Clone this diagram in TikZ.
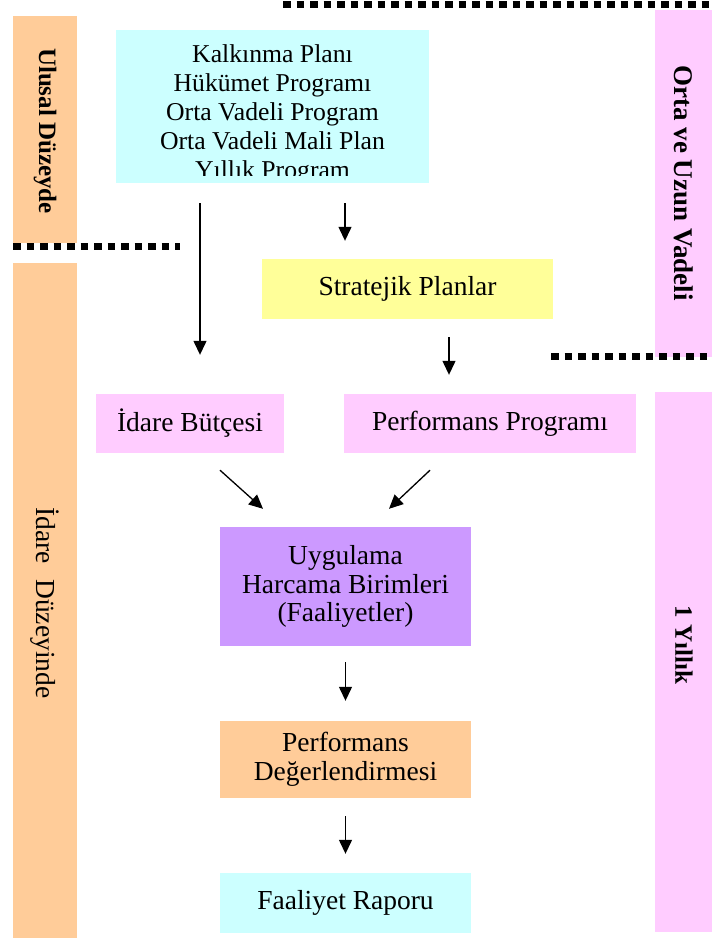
\documentclass[tikz,border=0pt]{standalone}
\usepackage{fontspec}
\setmainfont{Liberation Serif}
\usetikzlibrary{arrows.meta,calc}

\definecolor{peach}{HTML}{FFCC99}
\definecolor{paleCyan}{HTML}{CCFFFF}
\definecolor{paleYellow}{HTML}{FFFF99}
\definecolor{palePink}{HTML}{FFCCFF}
\definecolor{lilac}{HTML}{CC99FF}

\begin{document}
\begin{tikzpicture}[
  x=1pt, y=-1pt,
  txt/.style={font=\fontsize{27.5}{28.5}\selectfont, align=center, inner sep=0pt},
  box/.style={rectangle, inner sep=0pt, draw=none, txt},
  bar/.style={rectangle, inner sep=0pt, draw=none},
  sidelabel/.style={rotate=-90, inner sep=0pt},
  flow/.style={-{Triangle[length=14pt,width=13pt]}, line width=1.3pt, black},
  divider/.style={line width=7pt, black, dash pattern=on 7.5pt off 6pt}
]
\useasboundingbox (0,0) rectangle (712,942);

% level bars on both sides
\node[bar, fill=peach, minimum width=64, minimum height=227] (ulusalBar) at (45,129.5) {};
\node[bar, fill=peach, minimum width=64, minimum height=675] (idareBar) at (45,600.5) {};
\node[bar, fill=palePink, minimum width=57, minimum height=347] (ortaBar) at (683.5,183.5) {};
\node[bar, fill=palePink, minimum width=57, minimum height=540] (yillikBar) at (683.5,662) {};

\node[sidelabel, font=\fontsize{25}{28}\selectfont\bfseries] (ulusalLbl) at (45,131) {Ulusal Düzeyde};
\node[sidelabel, font=\fontsize{27.5}{30}\selectfont] (idareLbl) at (45,603) {İdare\hspace{0.3em} Düzeyinde};
\node[sidelabel, font=\fontsize{27}{30}\selectfont\bfseries] (ortaLbl) at (684,183) {Orta ve Uzun Vadeli};
\node[sidelabel, font=\fontsize{25}{28}\selectfont\bfseries] (yillikLbl) at (684,645) {1 Yıllık};

% dotted separators
\coordinate (topL) at (283,5);   \coordinate (topR) at (712,5);
\coordinate (midL) at (13,246);  \coordinate (midR) at (180,246);
\coordinate (lowL) at (551,356); \coordinate (lowR) at (712,356);
\draw[divider] (topL) -- (topR);
\draw[divider] (midL) -- (midR);
\draw[divider] (lowL) -- (lowR);

% national plans, with the last line cut by the frame
\node[box, fill=paleCyan, minimum width=313, minimum height=153] (plans) at (272.5,106.5) {};
\begin{scope}
  \clip (116,30) rectangle (429,175);
  % anchored on the baseline of the last line
  \node[txt, font=\fontsize{25.7}{28.9}\selectfont, anchor=base] (plansTxt) at (272.5,178.5)
    {Kalkınma Planı\\Hükümet Programı\\Orta Vadeli Program\\Orta Vadeli Mali Plan\\Yıllık Program};
\end{scope}

\node[box, fill=paleYellow, minimum width=291, minimum height=60] (strat) at (407.5,289) {Stratejik Planlar};
\node[box, fill=palePink, minimum width=188, minimum height=59] (budget) at (190,423.5) {İdare Bütçesi};
\node[box, fill=palePink, minimum width=292, minimum height=59] (perf) at (490,423.5) {Performans Programı};
\node[box, fill=lilac, minimum width=251, minimum height=119] (impl) at (345.5,586.5) {Uygulama\\Harcama Birimleri\\(Faaliyetler)};
\node[box, fill=peach, minimum width=251, minimum height=77] (eval) at (345.5,759.5) {Performans\\Değerlendirmesi};
\node[box, fill=paleCyan, minimum width=251, minimum height=60] (report) at (345.5,903) {Faaliyet Raporu};

% flow arrows
\draw[flow] ($(plans.south)+(-72.5,20)$) -- ($(budget.north)+(10,-39)$);
\draw[flow] ($(plans.south)+(72.5,20)$) -- ($(strat.north)+(-62.5,-18)$);
\draw[flow] ($(strat.south)+(41.5,18)$) -- ($(perf.north)+(-41,-19)$);
\draw[flow] ($(budget.south)+(30,17)$) -- ($(impl.north)+(-82.5,-18)$);
\draw[flow] ($(perf.south)+(-60,17)$) -- ($(impl.north)+(43.5,-18)$);
\draw[flow] ($(impl.south)+(0,16)$) -- ($(eval.north)+(0,-20)$);
\draw[flow] ($(eval.south)+(0,18)$) -- ($(report.north)+(0,-19)$);
\end{tikzpicture}
\end{document}
